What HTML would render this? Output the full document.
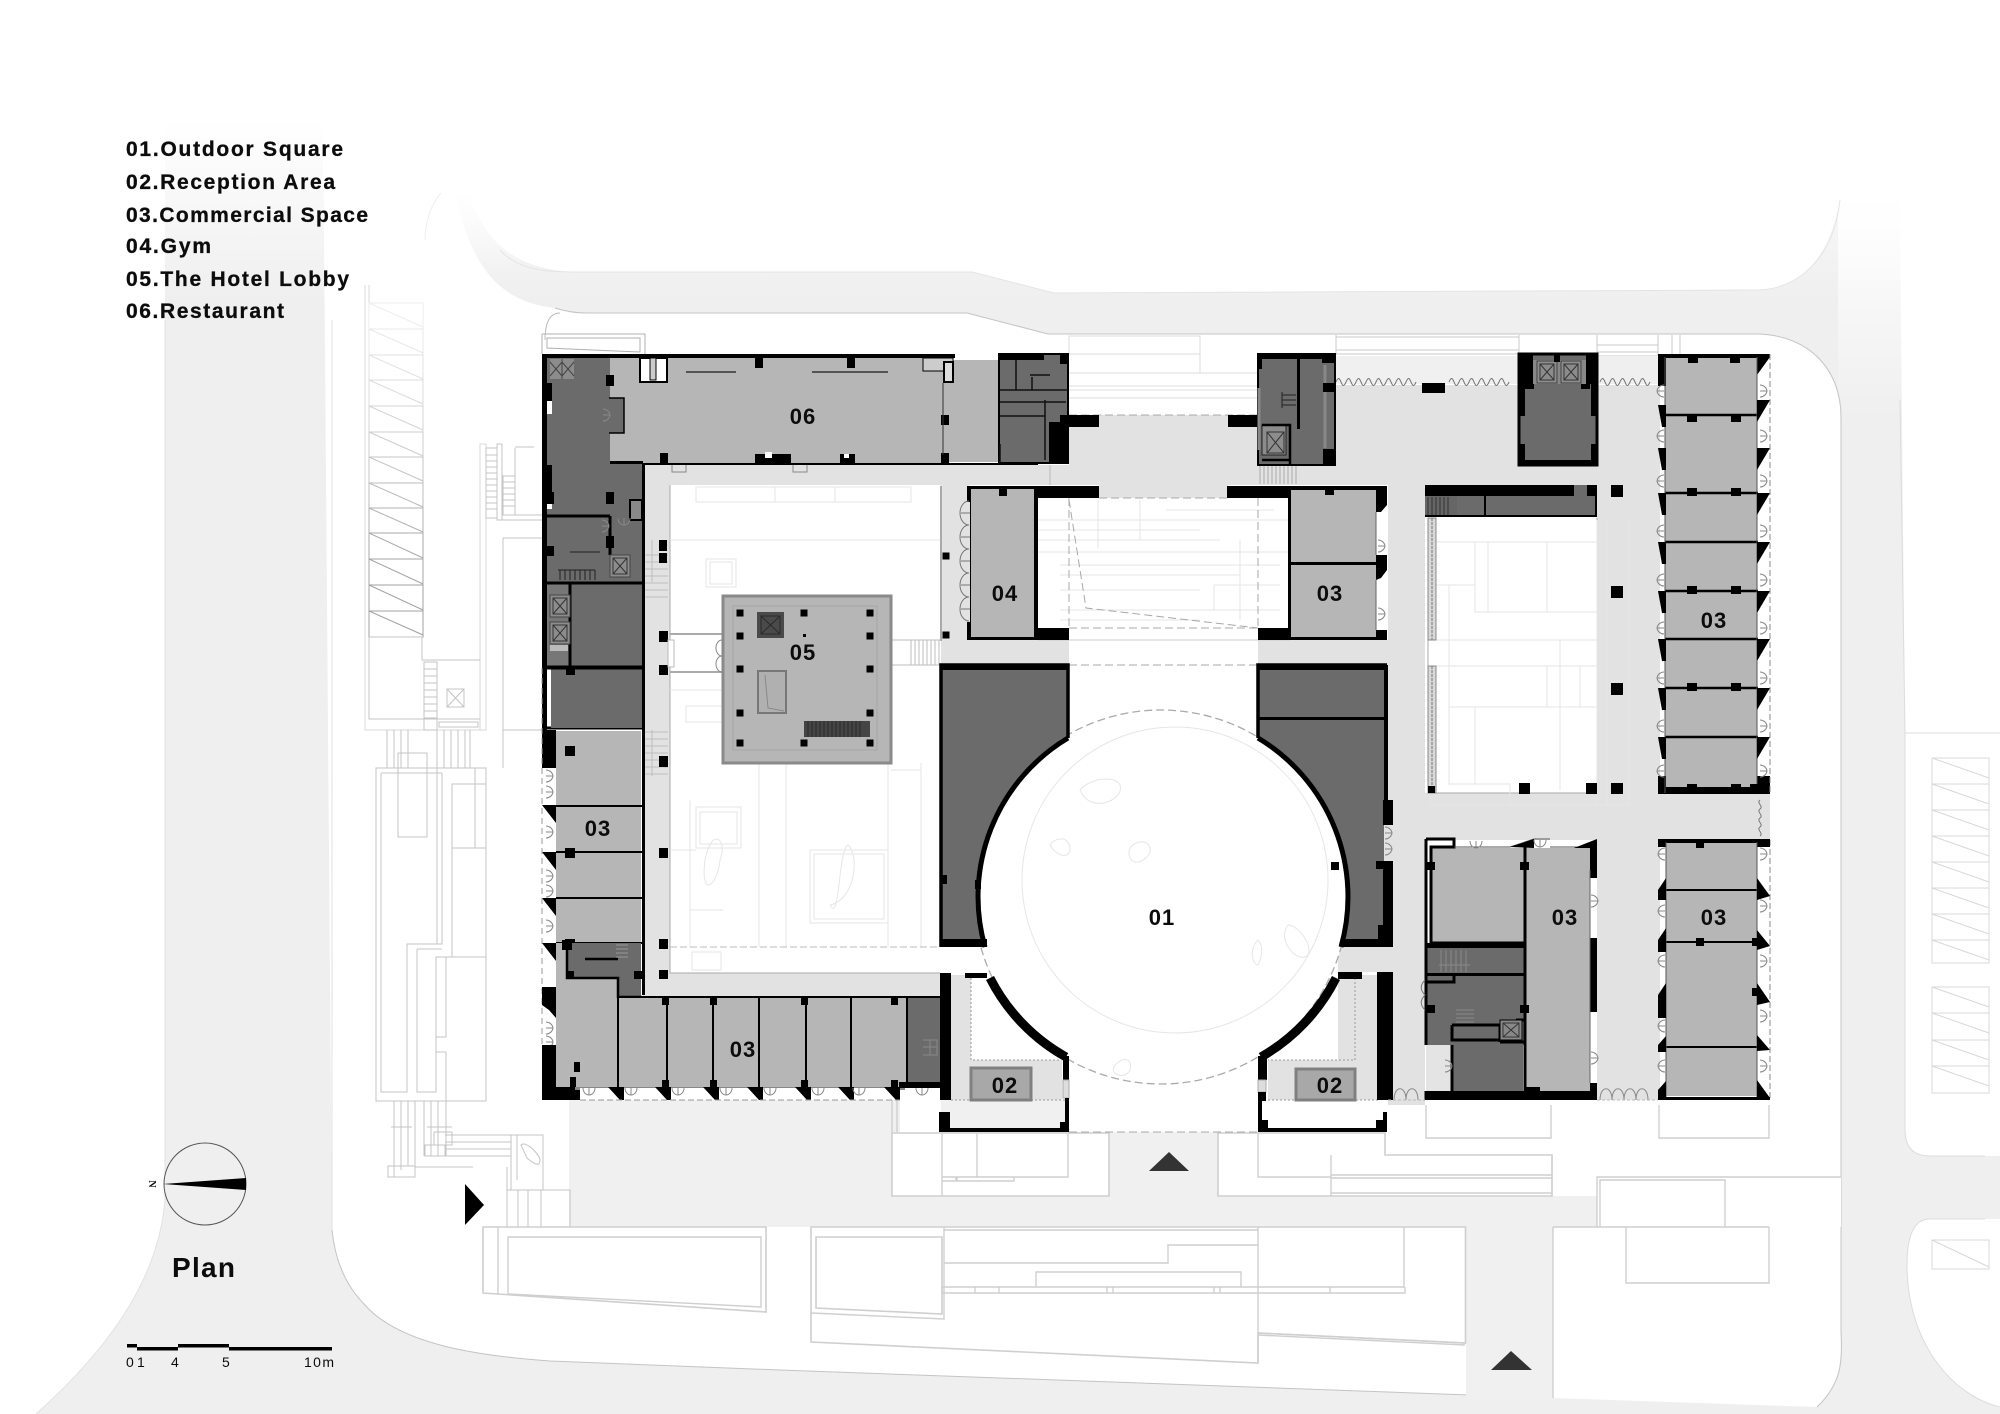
<!DOCTYPE html>
<html><head><meta charset="utf-8"><title>Plan</title>
<style>html,body{margin:0;padding:0;background:#fff}svg{display:block}
text{font-family:"Liberation Sans",sans-serif;font-weight:bold;fill:#0c0c0c}
.n{font-size:22px;letter-spacing:1px;text-anchor:middle}
.l{font-size:21px;stroke:#0c0c0c;stroke-width:.3}
.f{fill:none;stroke:#e6e6e6;stroke-width:1}
.o{fill:#fff;stroke:#cfcfcf;stroke-width:1.6}
.s{fill:none;stroke:#cfcfcf;stroke-width:1.4}
.t{fill:none;stroke:#bdbdbd;stroke-width:1}
.dr{fill:none;stroke:#888;stroke-width:1}
</style></head><body>
<svg xmlns="http://www.w3.org/2000/svg" xmlns:xlink="http://www.w3.org/1999/xlink" width="2000" height="1414" viewBox="0 0 2000 1414">
<defs>
<linearGradient id="g" gradientUnits="userSpaceOnUse" x1="0" y1="120" x2="0" y2="300"><stop offset="0" stop-color="#fff"/><stop offset="1" stop-color="#efefef"/></linearGradient>
<linearGradient id="w" gradientUnits="userSpaceOnUse" x1="0" y1="190" x2="0" y2="420"><stop offset="0" stop-color="#fff"/><stop offset="1" stop-color="#fff" stop-opacity="0"/></linearGradient>
<linearGradient id="w2" gradientUnits="userSpaceOnUse" x1="0" y1="190" x2="0" y2="270"><stop offset="0" stop-color="#fff"/><stop offset="1" stop-color="#fff" stop-opacity="0"/></linearGradient>
<g id="dl"><path class="dr" d="M0,0a7,7 0 0 1 7,6a7,7 0 0 1 -7,6"/><path class="dr" d="M7,6H0"/></g>
<g id="dh"><path class="dr" d="M0,0a6,7 0 0 0 6,7a6,7 0 0 0 6,-7M6,0V7"/></g>
<g id="tL"><polygon points="0,0 8,0 8,22 4,22" fill="#000"/></g>
<g id="tW"><polygon points="0,0 14,0 14,18" fill="#000"/></g>
<g id="tR"><polygon points="0,0 13,0 0,22" fill="#000"/></g>
<g id="tS"><polygon points="0,0 16,0 16,13 12,13" fill="#000"/></g>
<g id="el"><rect width="20" height="22" fill="#8c8c8c" stroke="#444"/><path d="M3,3H17V19H3ZM3,3L17,19M17,3L3,19" fill="none" stroke="#333"/></g>
<g id="c"><rect x="-3.5" y="-3.5" width="7" height="7" fill="#000"/></g>
</defs>
<rect width="2000" height="1414" fill="url(#g)"/>
<rect x="1838" y="100" width="70" height="320" fill="url(#w)"/>
<rect x="430" y="190" width="90" height="80" fill="url(#w2)"/>
<path d="M0,0H165V1200C160,1260 130,1330 36,1414H0Z" fill="#fff"/>
<rect x="323" y="0" width="1580" height="190" fill="#fff"/>
<path d="M323,100H441C455,240 480,300 555,308Q570,313 587,313H967L1048,334H1759C1810,336 1841,370 1841,417V1332C1843,1365 1840,1385 1817,1407L1553,1398L780,1370L550,1361C480,1356 400,1345 365,1305C345,1285 335,1260 332,1230Z" fill="#fff"/>
<path d="M468,100V190C480,230 505,272 582,272H972L1054,293L1759,290C1805,288 1835,250 1840,190V100Z" fill="#fff"/>
<path d="M500,250C520,272 550,272 582,272H972L1054,293L1759,290C1805,288 1835,250 1840,200" fill="none" stroke="#e4e4e4"/>
<path d="M2000,0H1898L1905,733V1130Q1905,1156 1930,1156H2000Z" fill="#fff"/>
<path d="M2000,1219H1930Q1907,1219 1907,1265C1907,1340 1950,1395 2000,1407Z" fill="#fff"/>
<path d="M2000,733H1905V1130Q1905,1156 1930,1156H1985M1985,1219H1930Q1907,1219 1907,1265C1907,1340 1950,1395 2000,1407M1900,400L1905,733" fill="none" stroke="#dcdcdc"/>
<path d="M555,308Q570,313 587,313H967L1048,334H1759C1810,336 1841,370 1841,417V1332C1843,1365 1840,1385 1817,1407M1553,1398L780,1370L550,1361C480,1356 400,1345 365,1305C345,1285 335,1260 332,1230" fill="none" stroke="#c4c4c4"/>
<path d="M165,1200C160,1260 130,1330 36,1414M332,1230V320M165,1200V320" fill="none" stroke="#e2e2e2"/>
<path d="M441,193C430,205 425,225 425,240" fill="none" stroke="#eee"/>
<path d="M545,340C545,322 550,313 560,313" fill="none" stroke="#bbb"/>
<rect x="569" y="1100" width="650" height="127" fill="#f0f0f0"/>
<rect x="1200" y="1196" width="397" height="31" fill="#f0f0f0"/>
<rect x="1466" y="1227" width="87" height="172" fill="#f0f0f0"/>
<rect x="1069" y="1100" width="190" height="32" fill="#fff"/>
<rect x="900" y="1088" width="41" height="45" fill="#fff"/>
<rect x="1597" y="1177" width="244" height="50" fill="#fff"/>

<!-- parking east -->
<g fill="none" stroke="#d8d8d8"><path d="M1932,758H1989V963H1932ZM1932,784H1989M1932,810H1989M1932,836H1989M1932,862H1989M1932,888H1989M1932,914H1989M1932,940H1989M1932,758L1989,778M1932,784L1989,804M1932,810L1989,830M1932,836L1989,856M1932,862L1989,882M1932,888L1989,908M1932,914L1989,934M1932,940L1989,960"/><path d="M1932,987H1989V1093H1932ZM1932,1013H1989M1932,1040H1989M1932,1066H1989M1932,987L1989,1007M1932,1013L1989,1033M1932,1040L1989,1060M1932,1066L1989,1086"/><path d="M1932,1240H1989V1269H1932ZM1932,1240L1989,1267"/></g>

<!-- west site -->
<path d="M369,285V303M365,285V730H486V444H480V730" class="f" style="stroke:#d8d8d8"/>
<g fill="none" stroke-width="1">
<path d="M369,303H423V329H369ZM369,303L423,327" stroke="#eee"/>
<path d="M369,329H423V355H369ZM369,329L423,353" stroke="#e8e8e8"/>
<path d="M369,355H423V380H369ZM369,355L423,379" stroke="#e2e2e2"/>
<path d="M369,380H423V406H369ZM369,380L423,404" stroke="#dcdcdc"/>
<path d="M369,406H423V432H369ZM369,406L423,430" stroke="#d4d4d4"/>
<path d="M369,432H423V457H369ZM369,432L423,456" stroke="#ccc"/>
<path d="M369,457H423V483H369ZM369,457L423,481" stroke="#c4c4c4"/>
<path d="M369,483H423V508H369ZM369,483L423,507" stroke="#bbb"/>
<path d="M369,508H423V533H369ZM369,508L423,532" stroke="#b2b2b2"/>
<path d="M369,533H423V559H369ZM369,533L423,558" stroke="#aaa"/>
<path d="M369,559H423V585H369ZM369,559L423,584" stroke="#a4a4a4"/>
<path d="M369,585H423V611H369ZM369,585L423,610" stroke="#a0a0a0"/>
<path d="M369,611H423V637H369ZM369,611L423,635" stroke="#a0a0a0"/>
</g>
<g class="t" style="fill:none;stroke:#c4c4c4">
<path d="M369,637H422V660H480M369,637V719H480M447,689H464V707H447ZM447,689L464,707M464,689L447,707M439,722H478V727H439ZM424,662H437V730H424ZM424,669H437M424,676H437M424,683H437M424,690H437M424,697H437M424,704H437M424,711H437M424,718H437"/>
<path d="M486,448H497V518H486ZM486,455H497M486,461H497M486,467H497M486,473H497M486,479H497M486,485H497M486,491H497M486,497H497M486,503H497M486,509H497M497,444H502V520H497ZM503,476H515V515H503ZM503,482H515M503,488H515M503,494H515M503,500H515M503,506H515M515,447H534M515,448V515H542M497,520H542"/>
<path d="M503,538H542M503,538V730H542M503,730V768"/>
<path d="M387,730V768M394,730V768M401,730V768M408,730V768M437,730V768M444,730V768M451,730V768M458,730V768M465,730V768M470,730V768"/>
<path d="M376,768H486V1101H376ZM381,773H442M381,773V1092H407V944H442V773M437,768V944M417,949H442M417,949V1092H436V957H446V1037H436M436,1052H446V1101M452,784H475V848H452ZM452,848V957H486M446,957H486M475,768V784H486M475,848H486M398,753H427V837H398Z"/>
<path d="M394,1101V1177M401,1101V1170M408,1101V1166M415,1101V1177M424,1101V1156M431,1101V1156M438,1101V1156M446,1101V1156M445,1135H511M445,1142H511M445,1149H511M445,1156H511M425,1145H445V1156H425ZM434,1132H452V1145H434ZM391,1127H412M427,1127H452"/>
<path d="M388,1166H415V1177H388ZM415,1167H473M511,1135H543V1190H511ZM517,1135V1180M507,1190H570V1227H507ZM518,1190V1227M528,1190V1227M541,1190V1227M507,1167V1190"/>
<path d="M521,1145C526,1140 540,1155 540,1160C540,1168 533,1163 527,1158Z"/>
</g>

<!-- south site blocks -->
<path class="o" d="M483,1227H766V1312L483,1293Z"/>
<path class="s" d="M498,1227V1295M508,1237H761V1307L508,1294Z"/>
<path class="o" d="M811,1227H1465.500V1343L1258,1333V1363L811,1342Z"/>
<path class="o" d="M816,1237H942V1314L816,1308Z"/>
<path class="s" d="M811,1313L944,1319V1227M944,1230H1258M944,1263H1168V1245H1258M1036,1287V1272H1241V1287M942,1287H1404V1227M942,1287V1293H1405V1287M975,1287V1293M999,1287V1293M1107,1287V1293M1113,1287V1293M1214,1287V1293M1220,1287V1293M1330,1287V1293M1258,1227V1363M1258,1333L1465,1343M1258,1335L1465,1345"/>
<path class="o" d="M892,1133H1109V1196H892Z"/>
<path class="s" d="M942,1133V1196M977,1133V1177H1068V1133M942,1177H956V1181H942ZM957,1177H1014V1181H957ZM892,1088V1133M897,1088V1133"/>
<path class="o" d="M1218,1133H1385V1155H1552V1196H1218Z" style="fill:#fff"/>
<path class="s" d="M1258,1133V1177H1331M1331,1155V1196M1331,1175H1552M1331,1178H1552M1331,1193H1552"/>
<path class="s" d="M1553,1227H1769M1553,1227V1398M1626,1227V1283H1769V1227M1597,1227V1177H1841M1600,1227V1180H1725V1227"/>
<path class="s" d="M1426,1105V1138H1551V1105M1659,1105V1138H1769V1105"/>

<!-- corridors -->
<g fill="#e2e2e2">
<rect x="643" y="465" width="426" height="20"/><rect x="643" y="465" width="27" height="530"/><rect x="643" y="973" width="297" height="23"/><rect x="941" y="485" width="28" height="180"/><rect x="941" y="640" width="128" height="25"/><rect x="1069" y="427" width="189" height="58"/><rect x="1099" y="415" width="129" height="83"/><rect x="1335" y="385" width="325" height="100"/><rect x="1258" y="465" width="340" height="20"/><rect x="1388" y="465" width="37" height="640"/><rect x="1597" y="385" width="63" height="715"/><rect x="1258" y="640" width="130" height="25"/><rect x="1388" y="793" width="382" height="47"/><rect x="1338" y="947" width="55" height="25"/><rect x="1425" y="793" width="172" height="46"/>
</g>
<path d="M1050,465V485" stroke="#bbb"/>
<!-- top hatching -->
<g fill="none" stroke="#c8c8c8"><path d="M1336,337H1519M1336,350H1519M1336,354H1519M1336,358H1519M1336,362H1519M1336,366H1519M1336,370H1519M1336,375H1519M1597,345H1658M1597,352H1658M1597,356H1658M1597,370H1658"/><path d="M1336,335V355M1519,335V355M1597,335V355M1658,335V355M1672,335V354M1680,335V354"/></g>
<rect x="1336" y="356" width="183" height="28" fill="#f0f0f0"/><rect x="1597" y="356" width="61" height="28" fill="#efefef"/>
<path d="M1336,382c5,-12 5,12 10,0c5,-12 5,12 10,0c5,-12 5,12 10,0c5,-12 5,12 10,0c5,-12 5,12 10,0c5,-12 5,12 10,0c5,-12 5,12 10,0c5,-12 5,12 10,0M1449,382c5,-12 5,12 10,0c5,-12 5,12 10,0c5,-12 5,12 10,0c5,-12 5,12 10,0c5,-12 5,12 10,0c5,-12 5,12 10,0M1600,382c5,-12 5,12 10,0c5,-12 5,12 10,0c5,-12 5,12 10,0c5,-12 5,12 10,0c5,-12 5,12 10,0" fill="none" stroke="#777"/>
<rect x="1422" y="383" width="23" height="10" fill="#000"/>
<path d="M1069,336H1200V354H1069ZM1200,354V373M1069,373H1258M1069,386H1258M1069,390H1258M1069,398H1258" fill="none" stroke="#dcdcdc"/>

<!-- courtyards -->
<path d="M670,485V973H940" fill="none" stroke="#aaa"/>
<rect x="940" y="486" width="2" height="155" fill="#aaa"/>
<path d="M696,487H911V502H696ZM775,487V502M835,487V502M670,540H940M706,559H736V587H706ZM710,562H732V584H710Z" class="f"/>
<path d="M670,634H722M670,672H722" stroke="#aaa" stroke-width="2" fill="none"/>
<path d="M891,640H941M891,665H941M911,640V665M915,640V665M919,640V665M923,640V665M927,640V665M931,640V665M935,640V665M939,640V665" class="t"/>
<path d="M670,690H722M686,706H722V722H686ZM696,807H741V848H696ZM700,812H737V844H700ZM810,850H888V923H810ZM814,854H884V919H814ZM692,952H721V970H692ZM759,763V947M786,763V947M888,763V947M921,763V947M670,850H696M690,800V947M690,910H723M891,770H921" class="f"/>
<path d="M670,947H940" fill="none" stroke="#bbb" stroke-dasharray="7 3"/>
<path d="M720,860C728,840 712,825 705,860C700,900 718,885 720,860ZM830,905C855,900 860,855 848,845C838,850 840,925 830,905" class="f"/>
<!-- hatch stairs west corridor -->
<path d="M644,555H668M644,562H668M644,569H668M644,576H668M644,583H668M644,590H668M644,597H668M644,732H668M644,739H668M644,746H668M644,753H668M644,760H668M644,767H668M644,774H668" class="t"/>
<path d="M652,540V582M652,730V776" class="t"/>

<!-- east courtyard -->
<rect x="1428" y="518" width="169" height="275" fill="#fff"/>
<path d="M1428,518V793H1597V518" fill="none" stroke="#aaa"/>
<path d="M1597,520V805M1607,520V805M1629,520V805M1430,793V805H1629M1430,542H1597M1436,585H1475V612H1597M1475,542V612M1488,542V612M1547,542V612M1436,640H1597M1449,585V785M1430,666H1597M1449,707H1597M1475,707V785M1560,640V790M1547,666V707M1580,666V707M1449,784H1510V805" class="f"/>
<path d="M1428,518H1436V640H1428ZM1428,666H1436V793H1428Z" fill="#d8d8d8" stroke="#888"/>
<path d="M1432,518V640M1432,666V793" stroke="#777" stroke-dasharray="3 1"/>
<rect x="1425" y="485" width="172" height="32" fill="#6b6b6b"/>
<rect x="1425" y="485" width="149" height="11" fill="#000"/><rect x="1587" y="485" width="10" height="11" fill="#000"/>
<rect x="1425" y="496" width="32" height="20" fill="#666"/><path d="M1428,497V516M1432,497V516M1436,497V516M1440,497V516M1444,497V516M1448,497V516" stroke="#333"/>
<path d="M1485,496V516M1425,516H1597M1596,496V517" stroke="#000" stroke-width="2"/>

<!-- central white + dashed -->
<path class="f" d="M1038,520H1288M1038,530H1200M1038,540H1220M1038,552H1288M1060,565H1280M1060,575H1240M1060,590H1200M1060,610H1280M1060,620H1200M1098,500V548M1140,500V540M1166,510H1274M1240,540V620M1214,585H1280M1214,610H1280M1214,585V610"/>
<path d="M1069,498V628M1258,498V628M1069,500L1086,608L1258,628M1069,628H1258M1069,665H1258M1069,415H1258M1099,498H1228" fill="none" stroke="#a8a8a8" stroke-dasharray="8 4"/>
<path d="M1038,640H1290" stroke="#ccc"/>

<!-- plaza -->
<circle cx="1161" cy="897" r="187" fill="#fff" stroke="#aaa" stroke-dasharray="8 4" stroke-width="1.3"/>
<ellipse cx="1175" cy="880" rx="153" ry="153" fill="none" stroke="#e6e6e6"/>
<g class="f"><path d="M1080,790c10,-12 35,-15 40,-5c5,15 -30,30 -40,5ZM1050,845c5,-8 20,-10 20,5c-2,10 -15,5 -20,-5ZM1130,848c5,-8 22,-10 20,5c-10,15 -25,10 -20,-5ZM1115,1065c10,-10 18,-5 15,5c-5,10 -22,5 -15,-5ZM1258,940c-10,10 -5,25 0,25c5,-10 5,-20 0,-25ZM1288,925c-12,15 10,40 20,30c5,-10 -10,-30 -20,-30Z"/></g>

<!-- NW block -->
<path d="M547,356H610V462H643V728H551V667H570V583H547Z" fill="#6b6b6b"/>
<rect x="547" y="583" width="23" height="84" fill="#777"/>
<rect x="610" y="358" width="334" height="105" fill="#b6b6b6"/>
<rect x="944" y="360" width="56" height="102" fill="#b6b6b6"/>
<rect x="542" y="354" width="413" height="4" fill="#000"/>
<rect x="542" y="354" width="5" height="376" fill="#000"/>
<rect x="546" y="383" width="6" height="18" fill="#000"/><rect x="546" y="465" width="6" height="30" fill="#000"/><rect x="547" y="401" width="5" height="13" fill="#fff"/><rect x="547" y="495" width="5" height="14" fill="#fff"/>
<rect x="610" y="461" width="33" height="3" fill="#000"/><rect x="643" y="463" width="395" height="2" fill="#000"/><rect x="642" y="463" width="3" height="532" fill="#000"/>
<path d="M547,516H610M610,516V555M547,583H643M547,667H643M547,728H643M570,583V667" stroke="#000" stroke-width="3" fill="none"/>
<use xlink:href="#el" x="550" y="595"/><use xlink:href="#el" x="550" y="622"/><use xlink:href="#el" x="610" y="555"/><rect x="550" y="645" width="18" height="6" fill="#bbb"/>
<rect x="550" y="359" width="24" height="20" fill="#8c8c8c"/><path d="M562,359V379M550,362L562,376M562,362L550,376M562,362L574,376M574,362L562,376" stroke="#444"/>
<rect x="606" y="375" width="8" height="11" fill="#000"/><rect x="606" y="492" width="8" height="12" fill="#000"/><rect x="606" y="536" width="8" height="12" fill="#000"/>
<rect x="546" y="492" width="8" height="12" fill="#000"/><rect x="546" y="546" width="8" height="10" fill="#000"/>
<rect x="630" y="500" width="12" height="20" fill="#888" stroke="#000" stroke-width="2"/>
<path d="M558,570H595M560,570V580M565,570V580M570,570V580M575,570V580M580,570V580M585,570V580M590,570V580M595,570V580M570,552H600" stroke="#222"/>
<use xlink:href="#dl" x="602" y="520"/><use xlink:href="#dh" x="618" y="518"/>
<!-- restaurant details -->
<rect x="609" y="398" width="15" height="35" fill="#6b6b6b"/><path d="M609,398H624V433H609" fill="none" stroke="#000" stroke-width="1.5"/>
<use xlink:href="#dl" x="603" y="409"/>
<rect x="640" y="358" width="27" height="24" fill="#fff" stroke="#000" stroke-width="2"/><rect x="650" y="358" width="6" height="22" fill="#ccc" stroke="#000"/>
<path d="M686,372H736M812,372H888" stroke="#333" stroke-width="1.5" fill="none"/>
<rect x="755" y="358" width="8" height="10" fill="#000"/><rect x="847" y="358" width="8" height="10" fill="#000"/>
<rect x="923" y="358" width="30" height="13" fill="#ccc" stroke="#000"/><rect x="944" y="362" width="9" height="20" fill="#ddd" stroke="#000" stroke-width="2"/>
<rect x="941" y="415" width="8" height="10" fill="#000"/><rect x="941" y="453" width="8" height="11" fill="#000"/>
<path d="M943,383V455" stroke="#333"/>
<rect x="660" y="453" width="8" height="12" fill="#000"/><rect x="755" y="454" width="36" height="9" fill="#000"/><rect x="765" y="452" width="7" height="6" fill="#fff"/><rect x="840" y="454" width="15" height="9" fill="#000"/><rect x="844" y="454" width="5" height="4" fill="#fff"/>
<path d="M672,465v7h14v-7M793,465v7h14v-7" class="dr"/>
<!-- N core -->
<rect x="999" y="355" width="69" height="108" fill="#6b6b6b"/>
<path d="M999,354H1068V463H999Z" fill="none" stroke="#000" stroke-width="2"/>
<rect x="999" y="354" width="45" height="6" fill="#000"/><rect x="1049" y="422" width="19" height="41" fill="#000"/><rect x="1060" y="415" width="39" height="12" fill="#000"/><rect x="1060" y="354" width="8" height="10" fill="#000"/>
<path d="M1000,390H1068M1000,402H1066M1000,416H1045M1000,444V463M1045,400V460M1030,375H1050M1016,360V390M1032,377V390" stroke="#111" stroke-width="1.5" fill="none"/>

<!-- beams north plaza -->
<rect x="1228" y="415" width="30" height="12" fill="#000"/>
<!-- NE cores -->
<rect x="1258" y="354" width="77" height="111" fill="#6b6b6b"/>
<path d="M1258,354H1335V465H1258Z" fill="none" stroke="#000" stroke-width="2"/>
<rect x="1258" y="354" width="77" height="5" fill="#000"/><rect x="1297" y="359" width="3" height="70" fill="#000"/><rect x="1322" y="359" width="13" height="4" fill="#000"/><rect x="1323" y="383" width="12" height="9" fill="#000"/><rect x="1323" y="449" width="12" height="16" fill="#000"/>
<rect x="1258" y="359" width="4" height="10" fill="#000"/>
<path d="M1259,388V450M1325,365V383M1325,392V448" stroke="#888" stroke-width="3"/>
<rect x="1262" y="425" width="24" height="30" fill="#8c8c8c" stroke="#222"/><path d="M1267,432H1284V453H1267ZM1267,432L1284,453M1284,432L1267,453" stroke="#333" fill="none"/>
<path d="M1262,425H1290V465M1262,460H1290" stroke="#000" stroke-width="2.5" fill="none"/>
<path d="M1282,395H1296M1282,400H1296M1282,405H1296M1282,408V392" stroke="#222" fill="none"/>
<!-- stairs -->
<path d="M1260,466V484M1264,466V484M1268,466V484M1272,466V484M1276,466V484M1280,466V484M1284,466V484M1288,466V484M1292,466V484M1296,466V484" stroke="#aaa"/>
<rect x="1519" y="354" width="78" height="111" fill="#6b6b6b"/>
<path d="M1519,354H1597V465H1519Z" fill="none" stroke="#000" stroke-width="3"/>
<rect x="1519" y="354" width="14" height="30" fill="#000"/><rect x="1586" y="354" width="11" height="30" fill="#000"/><rect x="1519" y="384" width="6" height="32" fill="#000"/><rect x="1591" y="384" width="6" height="32" fill="#000"/><rect x="1519" y="444" width="6" height="21" fill="#000"/><rect x="1591" y="444" width="6" height="21" fill="#000"/><rect x="1519" y="460" width="78" height="5" fill="#000"/>
<rect x="1533" y="360" width="53" height="24" fill="#888"/><use xlink:href="#el" x="1537" y="361"/><use xlink:href="#el" x="1561" y="361"/>
<rect x="1554" y="354" width="6" height="8" fill="#000"/><rect x="1525" y="384" width="9" height="5" fill="#000"/><rect x="1581" y="384" width="9" height="5" fill="#000"/>

<!-- Gym 04 -->
<rect x="967" y="486" width="132" height="12" fill="#000"/>
<rect x="967" y="486" width="4" height="154" fill="#000"/>
<rect x="1034" y="498" width="4" height="130" fill="#000"/>
<rect x="1034" y="628" width="35" height="12" fill="#000"/>
<rect x="967" y="637" width="102" height="3" fill="#000"/>
<rect x="971" y="489" width="63" height="148" fill="#b6b6b6"/>
<rect x="999" y="488" width="8" height="8" fill="#000"/>
<use xlink:href="#c" x="946" y="556"/><use xlink:href="#c" x="946" y="635"/>
<rect x="961" y="502" width="9" height="120" fill="#e2e2e2"/>
<path d="M969,501a9,12 0 0 0 -9,12a9,12 0 0 0 9,12a9,12 0 0 0 -9,12a9,12 0 0 0 9,12a9,12 0 0 0 -9,12a9,12 0 0 0 9,12a9,12 0 0 0 -9,12a9,12 0 0 0 9,12a9,12 0 0 0 -9,12a9,12 0 0 0 9,12M961,513H970M961,537H970M961,561H970M961,585H970M961,609H970" fill="none" stroke="#777"/>

<!-- East plaza 03 -->
<rect x="1227" y="486" width="160" height="12" fill="#000"/>
<rect x="1288" y="498" width="4" height="130" fill="#000"/>
<rect x="1258" y="628" width="34" height="12" fill="#000"/>
<rect x="1288" y="637" width="99" height="3" fill="#000"/>
<rect x="1291" y="490" width="85" height="147" fill="#b6b6b6"/>
<polygon points="1376,490 1387,490 1387,505 1381,512 1376,512" fill="#000"/>
<rect x="1376" y="630" width="11" height="10" fill="#000"/>
<rect x="1291" y="562" width="86" height="3" fill="#000"/>
<polygon points="1376,555 1387,555 1387,570 1381,578 1376,580" fill="#000"/>
<rect x="1325" y="490" width="9" height="5" fill="#000"/>
<path d="M1376,512V555M1376,580V630" stroke="#666" fill="none"/>
<use xlink:href="#dl" x="1378" y="540"/><use xlink:href="#dl" x="1378" y="608"/>

<!-- Lobby 05 -->
<rect x="723" y="596" width="168" height="167" fill="#b6b6b6" stroke="#8a8a8a" stroke-width="3"/>
<path d="M733,606H877V750H733Z" fill="none" stroke="#a6a6a6"/>
<rect x="757" y="612" width="27" height="26" fill="#4a4a4a"/><path d="M761,616H780V634H761ZM761,616L780,634M780,616L761,634" stroke="#2a2a2a" fill="none"/>
<rect x="758" y="671" width="28" height="42" fill="#b0b0b0" stroke="#777" stroke-width="2"/><path d="M765,675L768,708L784,711" stroke="#888" fill="none"/>
<rect x="804" y="721" width="66" height="16" fill="#444"/><path d="M808,721V737M812,721V737M816,721V737M820,721V737M824,721V737M828,721V737M832,721V737M836,721V737M840,721V737M844,721V737M848,721V737M852,721V737M856,721V737M860,721V737" stroke="#2a2a2a"/>
<g><use xlink:href="#c" x="740" y="613"/><use xlink:href="#c" x="804" y="613"/><use xlink:href="#c" x="870" y="613"/><use xlink:href="#c" x="740" y="636"/><rect x="803" y="634" width="3" height="3"/><use xlink:href="#c" x="870" y="636"/><use xlink:href="#c" x="740" y="669"/><use xlink:href="#c" x="870" y="669"/><use xlink:href="#c" x="740" y="713"/><use xlink:href="#c" x="870" y="713"/><use xlink:href="#c" x="740" y="743"/><use xlink:href="#c" x="804" y="743"/><use xlink:href="#c" x="870" y="743"/></g>
<g><rect x="659" y="540" width="8" height="11" fill="#000"/><rect x="659" y="553" width="8" height="10" fill="#000"/><rect x="659" y="631" width="9" height="11" fill="#000"/><rect x="659" y="665" width="9" height="10" fill="#000"/><rect x="659" y="756" width="9" height="11" fill="#000"/><rect x="659" y="848" width="9" height="10" fill="#000"/><rect x="659" y="939" width="9" height="10" fill="#000"/><rect x="659" y="970" width="9" height="9" fill="#000"/></g>
<path d="M668,640H674V667H668Z" fill="#fff" stroke="#bbb"/>
<path d="M722,640a6,8 0 0 0 -6,8a6,8 0 0 0 6,8a6,8 0 0 0 -6,8a6,8 0 0 0 6,8" fill="none" stroke="#888"/>

<!-- West shops -->
<rect x="551" y="668" width="91" height="60" fill="#6b6b6b"/>
<path d="M542,668H642" stroke="#000" stroke-width="3"/>
<rect x="566" y="668" width="9" height="7" fill="#000"/>
<rect x="556" y="731" width="85" height="212" fill="#b6b6b6"/>
<path d="M556,806H642M556,852H642M556,898H642M556,943H642" stroke="#000" stroke-width="2"/>
<rect x="542" y="730" width="14" height="38" fill="#000"/><use xlink:href="#tW" x="542" y="805"/><use xlink:href="#tW" x="542" y="852"/><use xlink:href="#tW" x="542" y="898"/><use xlink:href="#tW" x="542" y="943"/>
<rect x="565" y="746" width="10" height="10" fill="#000"/><rect x="565" y="848" width="10" height="10" fill="#000"/><rect x="565" y="939" width="10" height="10" fill="#000"/>
<path d="M542,668V1045" stroke="#999" stroke-dasharray="6 4" fill="none"/>
<use xlink:href="#dl" x="546" y="770"/><use xlink:href="#dl" x="546" y="786"/><use xlink:href="#dl" x="546" y="826"/><use xlink:href="#dl" x="546" y="870"/><use xlink:href="#dl" x="546" y="885"/><use xlink:href="#dl" x="546" y="920"/><use xlink:href="#dl" x="546" y="1022"/><use xlink:href="#dl" x="546" y="1036"/>
<rect x="556" y="943" width="62" height="144" fill="#b6b6b6"/>
<rect x="567" y="943" width="74" height="35" fill="#6b6b6b"/><rect x="618" y="978" width="23" height="19" fill="#6b6b6b"/>
<path d="M567,943V978H618V997H642M585,959H618" stroke="#000" stroke-width="2.500" fill="none"/>
<path d="M616,945H628M616,949H628M616,953H628M616,957H628" stroke="#999"/>
<rect x="562" y="940" width="10" height="10" fill="#000"/><rect x="566" y="971" width="8" height="8" fill="#000"/><rect x="634" y="971" width="8" height="8" fill="#000"/>
<rect x="574" y="1062" width="6" height="10" fill="#000"/>
<polygon points="542,987 556,987 556,1018 549,1010 542,1005" fill="#000"/><rect x="542" y="1045" width="14" height="55" fill="#000"/><rect x="542" y="1087" width="38" height="13" fill="#000"/>
<rect x="570" y="1077" width="6" height="10" fill="#000"/>

<!-- South shops -->
<rect x="618" y="997" width="289" height="91" fill="#b6b6b6"/>
<rect x="907" y="997" width="35" height="91" fill="#6b6b6b"/>
<path d="M618,997H942M618,997V1088M667,997V1088M713,997V1088M759,997V1088M806,997V1088M851,997V1088M907,997V1088" stroke="#000" stroke-width="2" fill="none"/>
<rect x="575" y="1087" width="330" height="3" fill="#888"/>
<g fill="#000"><rect x="662" y="997" width="7" height="8"/><rect x="710" y="997" width="7" height="8"/><rect x="801" y="997" width="7" height="8"/><rect x="891" y="997" width="7" height="8"/><rect x="662" y="1080" width="7" height="8"/><rect x="710" y="1080" width="7" height="8"/><rect x="801" y="1080" width="7" height="8"/><rect x="891" y="1080" width="7" height="8"/></g>
<rect x="580" y="1088" width="320" height="12" fill="#fff"/>
<use xlink:href="#tS" x="608" y="1087"/><use xlink:href="#tS" x="655" y="1087"/><use xlink:href="#tS" x="703" y="1087"/><use xlink:href="#tS" x="747" y="1087"/><use xlink:href="#tS" x="795" y="1087"/><use xlink:href="#tS" x="838" y="1087"/><use xlink:href="#tS" x="884" y="1087"/>
<path d="M580,1100H900" stroke="#999" stroke-dasharray="6 3"/>
<use xlink:href="#dh" x="583" y="1088"/><use xlink:href="#dh" x="625" y="1088"/><use xlink:href="#dh" x="672" y="1088"/><use xlink:href="#dh" x="720" y="1088"/><use xlink:href="#dh" x="764" y="1088"/><use xlink:href="#dh" x="812" y="1088"/><use xlink:href="#dh" x="853" y="1088"/><use xlink:href="#dh" x="916" y="1088"/>
<rect x="899" y="1082" width="42" height="6" fill="#000"/>
<path d="M923,1040H937V1055H923M923,1047H937M930,1040V1055" stroke="#888" fill="none"/>

<!-- wings -->
<path d="M941,665H1068V738A185,185 0 0 0 985,947H941Z" fill="#6b6b6b"/>
<path d="M941,947V665H1068V738" fill="none" stroke="#000" stroke-width="3.500"/>
<path d="M1258,665H1387V947H1341A185,185 0 0 0 1258,738Z" fill="#6b6b6b"/>
<path d="M1258,738V665H1387" fill="none" stroke="#000" stroke-width="3.500"/>
<rect x="941" y="939" width="46" height="8" fill="#000"/><rect x="1341" y="939" width="50" height="8" fill="#000"/>
<rect x="1258" y="665" width="130" height="5" fill="#000"/><rect x="941" y="665" width="128" height="5" fill="#000"/>
<rect x="1258" y="717" width="126" height="3" fill="#000"/>
<rect x="1384" y="665" width="4" height="135" fill="#000"/><rect x="1383" y="800" width="10" height="25" fill="#000"/><rect x="1383" y="861" width="10" height="86" fill="#000"/>
<rect x="1384" y="825" width="9" height="36" fill="#e2e2e2"/><use xlink:href="#dl" x="1385" y="827"/><use xlink:href="#dl" x="1385" y="843"/>
<rect x="1376" y="861" width="8" height="8" fill="#000"/><rect x="1378" y="925" width="8" height="22" fill="#000"/><rect x="1331" y="862" width="8" height="8" fill="#000"/>
<rect x="941" y="875" width="6" height="9" fill="#000"/><rect x="975" y="880" width="6" height="9" fill="#000"/>
<path d="M1068,738A185,185 0 0 0 985,947M1258,738A185,185 0 0 1 1341,947" fill="none" stroke="#000" stroke-width="5"/>

<!-- Reception courts -->
<path d="M951,975H971V1060H1062V1100H951Z" fill="#e2e2e2"/>
<rect x="1338" y="975" width="40" height="125" fill="#e2e2e2"/>
<path d="M1268,1060H1355V1100H1268Z" fill="#e2e2e2"/>
<path d="M971,978V1060H1060M1355,978V1060H1268M951,1100H1069M1268,1100H1378" fill="none" stroke="#999" stroke-dasharray="2 2"/>
<rect x="971" y="1068" width="60" height="32" fill="#a8a8a8" stroke="#808080" stroke-width="3"/>
<rect x="1296" y="1069" width="59" height="31" fill="#a8a8a8" stroke="#808080" stroke-width="3"/>
<rect x="940" y="973" width="11" height="127" fill="#000"/>
<rect x="1377" y="972" width="16" height="128" fill="#000"/>
<rect x="965" y="973" width="22" height="5" fill="#000"/><rect x="1338" y="972" width="24" height="7" fill="#000"/>
<path d="M990,978A188,188 0 0 0 1066,1057M1336,978A188,188 0 0 1 1261,1057" fill="none" stroke="#000" stroke-width="9"/>
<rect x="1063" y="1056" width="6" height="24" fill="#000"/><rect x="1258" y="1056" width="9" height="24" fill="#000"/>
<rect x="1063" y="1080" width="6" height="18" fill="#ddd" stroke="#aaa"/><rect x="1258" y="1080" width="8" height="12" fill="#ddd" stroke="#aaa"/><rect x="1258" y="1092" width="8" height="9" fill="#000"/>
<path d="M941,1112V1130H1067V1098" fill="none" stroke="#000" stroke-width="4"/>
<rect x="941" y="1112" width="9" height="20" fill="#000"/><rect x="1060" y="1122" width="9" height="10" fill="#000"/>
<path d="M1260,1100V1130H1385V1112" fill="none" stroke="#000" stroke-width="4"/>
<rect x="1258" y="1120" width="10" height="11" fill="#000"/><rect x="1376" y="1120" width="11" height="11" fill="#000"/>
<path d="M1069,1132H1258" stroke="#aaa" stroke-dasharray="8 4"/>

<!-- East shops -->
<rect x="1665" y="357" width="92" height="436" fill="#b6b6b6"/>
<rect x="1658" y="354" width="112" height="4" fill="#000"/><rect x="1658" y="354" width="8" height="32" fill="#000"/><polygon points="1757,357 1770,357 1757,375" fill="#000"/>
<rect x="1658" y="787" width="112" height="7" fill="#000"/><rect x="1658" y="776" width="8" height="18" fill="#000"/><rect x="1757" y="776" width="13" height="18" fill="#000"/>
<path d="M1665,415H1758M1665,493H1758M1665,542H1758M1665,591H1758M1665,639H1758M1665,688H1758M1665,737H1758" stroke="#000" stroke-width="2.500"/>
<path d="M1665,357V793M1757,357V793" stroke="#555"/>
<g><use xlink:href="#tL" x="1658" y="405"/><use xlink:href="#tL" x="1658" y="448"/><use xlink:href="#tL" x="1658" y="493"/><use xlink:href="#tL" x="1658" y="542"/><use xlink:href="#tL" x="1658" y="591"/><use xlink:href="#tL" x="1658" y="639"/><use xlink:href="#tL" x="1658" y="688"/><use xlink:href="#tL" x="1658" y="737"/>
<use xlink:href="#tR" x="1757" y="400"/><use xlink:href="#tR" x="1757" y="448"/><use xlink:href="#tR" x="1757" y="493"/><use xlink:href="#tR" x="1757" y="542"/><use xlink:href="#tR" x="1757" y="591"/><use xlink:href="#tR" x="1757" y="639"/><use xlink:href="#tR" x="1757" y="688"/><use xlink:href="#tR" x="1757" y="737"/></g>
<g fill="#000"><rect x="1688" y="357" width="10" height="6"/><rect x="1730" y="357" width="10" height="6"/><rect x="1687" y="414" width="10" height="8"/><rect x="1731" y="414" width="10" height="8"/><rect x="1687" y="488" width="10" height="8"/><rect x="1731" y="488" width="10" height="8"/><rect x="1687" y="586" width="10" height="8"/><rect x="1731" y="586" width="10" height="8"/><rect x="1687" y="683" width="10" height="8"/><rect x="1731" y="683" width="10" height="8"/><rect x="1687" y="784" width="10" height="8"/><rect x="1731" y="784" width="10" height="8"/><rect x="1750" y="784" width="20" height="10"/></g>
<g><use xlink:href="#dl" x="1760" y="385"/><use xlink:href="#dl" x="1760" y="430"/><use xlink:href="#dl" x="1760" y="475"/><use xlink:href="#dl" x="1760" y="525"/><use xlink:href="#dl" x="1760" y="574"/><use xlink:href="#dl" x="1760" y="622"/><use xlink:href="#dl" x="1760" y="672"/><use xlink:href="#dl" x="1760" y="720"/><use xlink:href="#dl" x="1760" y="765"/></g>
<path d="M1770,354V795M1770,840V1100" stroke="#888" stroke-dasharray="6 3"/>
<g transform="translate(1665,0) scale(-1,1)"><use xlink:href="#dl" x="1" y="385"/><use xlink:href="#dl" x="1" y="430"/><use xlink:href="#dl" x="1" y="475"/><use xlink:href="#dl" x="1" y="525"/><use xlink:href="#dl" x="1" y="574"/><use xlink:href="#dl" x="1" y="622"/><use xlink:href="#dl" x="1" y="672"/><use xlink:href="#dl" x="1" y="720"/><use xlink:href="#dl" x="1" y="765"/></g>
<path d="M1760,800c-4,3 4,6 0,9c-4,3 4,6 0,9c-4,3 4,6 0,9c-4,3 4,6 0,9" fill="none" stroke="#777"/>

<!-- SE shops -->
<rect x="1666" y="842" width="91" height="254" fill="#b6b6b6"/>
<rect x="1658" y="839" width="112" height="4" fill="#000"/><rect x="1658" y="839" width="8" height="8" fill="#000"/><rect x="1757" y="839" width="13" height="8" fill="#000"/><rect x="1658" y="1097" width="112" height="3" fill="#000"/>
<rect x="1696" y="842" width="8" height="6" fill="#000"/>
<path d="M1666,890H1758M1666,942H1758M1666,1047H1758" stroke="#000" stroke-width="2"/>
<path d="M1666,842V1097M1757,842V1097" stroke="#555"/>
<g fill="#000"><polygon points="1666,878 1666,900 1658,900 1658,890"/><polygon points="1666,928 1666,952 1658,952 1658,940"/><polygon points="1666,983 1666,1018 1658,1018 1658,995"/><polygon points="1666,1036 1666,1052 1658,1052 1658,1045"/><polygon points="1666,1081 1666,1100 1658,1100 1658,1090"/>
<polygon points="1757,878 1770,896 1757,900"/><polygon points="1757,930 1770,946 1757,950"/><polygon points="1757,983 1770,1002 1757,1005"/><polygon points="1757,1035 1770,1050 1757,1051"/><polygon points="1757,1080 1770,1098 1757,1100"/><rect x="1696" y="938" width="8" height="8"/><rect x="1752" y="938" width="8" height="8"/><rect x="1752" y="988" width="8" height="8"/></g>
<g><use xlink:href="#dl" x="1760" y="848"/><use xlink:href="#dl" x="1760" y="900"/><use xlink:href="#dl" x="1760" y="955"/><use xlink:href="#dl" x="1760" y="1010"/><use xlink:href="#dl" x="1760" y="1060"/></g>
<g transform="translate(1666,0) scale(-1,1)"><use xlink:href="#dl" x="1" y="848"/><use xlink:href="#dl" x="1" y="905"/><use xlink:href="#dl" x="1" y="955"/><use xlink:href="#dl" x="1" y="1020"/><use xlink:href="#dl" x="1" y="1060"/></g>

<!-- Middle SE block -->
<rect x="1430" y="848" width="95" height="96" fill="#b6b6b6"/>
<rect x="1526" y="848" width="64" height="247" fill="#b6b6b6"/>
<rect x="1426" y="947" width="99" height="98" fill="#6b6b6b"/>
<rect x="1452" y="1045" width="71" height="46" fill="#6b6b6b"/>
<rect x="1426" y="1045" width="25" height="46" fill="#e4e4e4"/>
<path d="M1426,839H1454V847H1431V943H1525M1426,839V1045M1426,1091V1100M1525,847V1091" fill="none" stroke="#000" stroke-width="3"/>
<path d="M1454,847H1510L1534,839H1550M1550,847H1582" stroke="#555" fill="none"/>
<polygon points="1510,847 1534,839 1534,848" fill="#000"/><polygon points="1574,848 1597,839 1597,860 1590,870 1590,848" fill="#000"/>
<rect x="1426" y="943" width="99" height="5" fill="#000"/><rect x="1426" y="973" width="99" height="3" fill="#000"/>
<path d="M1426,982H1454V973M1452,1045V1091M1452,1025H1500V1040H1452V1025M1500,1025V1042M1516,1020H1525V1042H1500" fill="none" stroke="#000" stroke-width="3"/>
<path d="M1441,950V972M1446,950V972M1451,950V972M1456,950V972M1461,950V972M1466,950V972M1439,965H1470M1456,1010H1474M1456,1014H1474M1456,1018H1474M1456,1022H1474" stroke="#8a8a8a"/>
<rect x="1500" y="1020" width="22" height="20" fill="#888" stroke="#000"/><path d="M1503,1023H1519V1037H1503ZM1503,1023L1519,1037M1519,1023L1503,1037" stroke="#333" fill="none"/>
<rect x="1426" y="1091" width="171" height="9" fill="#000"/><rect x="1525" y="1087" width="15" height="6" fill="#000"/>
<rect x="1590" y="938" width="7" height="74" fill="#000"/><rect x="1590" y="860" width="7" height="18" fill="#000"/><rect x="1590" y="1083" width="7" height="17" fill="#000"/>
<path d="M1590,870V1083" stroke="#666"/>
<g fill="#000"><rect x="1426" y="862" width="9" height="8"/><rect x="1520" y="862" width="9" height="8"/><rect x="1426" y="1005" width="9" height="8"/><rect x="1520" y="1005" width="9" height="8"/></g>
<use xlink:href="#dh" x="1470" y="841"/><use xlink:href="#dh" x="1534" y="840"/>
<use xlink:href="#dl" x="1591" y="895"/><use xlink:href="#dl" x="1591" y="1052"/><use xlink:href="#dl" x="1445" y="1060"/>
<path d="M1425,980c-5,5 -5,10 0,15c-5,5 -5,10 0,15" fill="none" stroke="#777"/>
<path d="M1394,1100c0,-15 12,-15 12,0c0,-15 12,-15 12,0M1600,1100c0,-15 12,-15 12,0c0,-15 12,-15 12,0c0,-15 12,-15 12,0c0,-15 12,-15 12,0" fill="none" stroke="#888"/>
<path d="M1388,1100H1425M1597,1100H1658" stroke="#bbb" stroke-dasharray="3 2"/>

<!-- columns courtyard -->
<g fill="#000"><rect x="1611" y="485" width="12" height="12"/><rect x="1611" y="586" width="12" height="12"/><rect x="1611" y="683" width="12" height="12"/><rect x="1611" y="783" width="12" height="11"/><rect x="1519" y="783" width="11" height="11"/><rect x="1586" y="783" width="11" height="11"/><rect x="1428" y="786" width="7" height="7"/></g>

<!-- top-left outline -->
<path d="M542,334H645V354M542,334V354M547,338H640V352L547,348Z" fill="none" stroke="#b0b0b0"/>

<!-- Triangles -->
<polygon points="1169,1152 1149,1171 1189,1171" fill="#333"/>
<polygon points="1511,1351 1491,1370 1532,1370" fill="#333"/>
<polygon points="465,1184 484,1205 465,1225" fill="#000"/>

<!-- Compass -->
<circle cx="205" cy="1184" r="41" fill="#efefef" stroke="#555"/>
<polygon points="163,1184 246,1178 246,1190" fill="#000"/>
<text x="0" y="0" transform="translate(149,1184) rotate(90)" text-anchor="middle" style="font-family:'Liberation Serif',serif;font-size:10px">N</text>

<!-- Scale -->
<g fill="#000"><rect x="127" y="1344" width="10" height="3.500"/><rect x="137" y="1347" width="41" height="3.500"/><rect x="178" y="1344" width="51" height="3.500"/><rect x="229" y="1347" width="103" height="3.500"/></g>
<g style="font-size:14px"><text x="126" y="1367" style="font-weight:normal">0</text><text x="137" y="1367" style="font-weight:normal">1</text><text x="171" y="1367" style="font-weight:normal">4</text><text x="222" y="1367" style="font-weight:normal">5</text><text x="304" y="1367" style="font-weight:normal" textLength="30">10m</text></g>
<text x="172" y="1277" style="font-size:28px" textLength="63">Plan</text>

<!-- Legend -->
<text class="l" x="126" y="156" textLength="217">01.Outdoor Square</text>
<text class="l" x="126" y="189" textLength="209">02.Reception Area</text>
<text class="l" x="126" y="222" textLength="242">03.Commercial Space</text>
<text class="l" x="126" y="253" textLength="85">04.Gym</text>
<text class="l" x="126" y="286" textLength="223">05.The Hotel Lobby</text>
<text class="l" x="126" y="318" textLength="158">06.Restaurant</text>

<!-- Numbers -->
<text class="n" x="803" y="424">06</text>
<text class="n" x="803" y="660">05</text>
<text class="n" x="1005" y="601">04</text>
<text class="n" x="1330" y="601">03</text>
<text class="n" x="1714" y="628">03</text>
<text class="n" x="598" y="836">03</text>
<text class="n" x="743" y="1057">03</text>
<text class="n" x="1005" y="1093">02</text>
<text class="n" x="1330" y="1093">02</text>
<text class="n" x="1565" y="925">03</text>
<text class="n" x="1714" y="925">03</text>
<text class="n" x="1162" y="925">01</text>
</svg>
</body></html>
